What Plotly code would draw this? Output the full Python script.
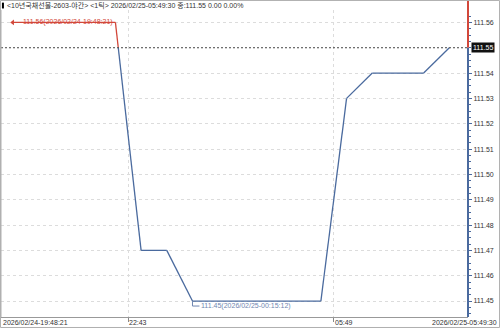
import plotly.graph_objects as go

# ---- data ----
title_text = "<10년국채선물-2603-야간> <1틱> 2026/02/25-05:49:30 종:111.55 0.00 0.00%"
tick_idx = [5, 49, 60, 71, 82, 137, 148, 159, 181, 192]
prices = [111.56, 111.56, 111.47, 111.47, 111.45, 111.45, 111.53, 111.54, 111.54, 111.55]
base_price = 111.55
x_tick_pos = [54.5, 142.5]
x_tick_labels = ["22:43", "05:49"]
x_start_label = "2026/02/24-19:48:21"
x_end_label = "2026/02/25-05:49:30"
y_ticks = [111.45, 111.46, 111.47, 111.48, 111.49, 111.50, 111.51, 111.52, 111.53, 111.54, 111.56]
max_label = "111.56(2026/02/24-19:48:21)"
min_label = "111.45(2026/02/25-00:15:12)"

RED = "#d2473a"
BLUE = "#4a6a9e"
FONT = "Liberation Sans, Noto Sans CJK KR, sans-serif"
FS = 7

xmin, xmax = 0, 200
ymin, ymax = 111.4437, 111.5649

# split series into above/below base segments
red_x, red_y, blue_x, blue_y = [], [], [], []
for i in range(len(prices) - 1):
    x0, y0, x1, y1 = tick_idx[i], prices[i], tick_idx[i + 1], prices[i + 1]
    if y0 >= base_price and y1 >= base_price:
        red_x += [x0, x1, None]; red_y += [y0, y1, None]
    elif y0 <= base_price and y1 <= base_price:
        blue_x += [x0, x1, None]; blue_y += [y0, y1, None]
    else:
        xc = x0 + (base_price - y0) / (y1 - y0) * (x1 - x0)
        if y0 > base_price:
            red_x += [x0, xc, None]; red_y += [y0, base_price, None]
            blue_x += [xc, x1, None]; blue_y += [base_price, y1, None]
        else:
            blue_x += [x0, xc, None]; blue_y += [y0, base_price, None]
            red_x += [xc, x1, None]; red_y += [base_price, y1, None]

fig = go.Figure()
fig.add_trace(go.Scatter(x=red_x, y=red_y, mode="lines", line=dict(color=RED, width=1.3),
                         hoverinfo="skip"))
fig.add_trace(go.Scatter(x=blue_x, y=blue_y, mode="lines", line=dict(color=BLUE, width=1.3),
                         hoverinfo="skip"))
# start arrow
fig.add_trace(go.Scatter(x=[tick_idx[0]], y=[prices[0]], mode="markers",
                         marker=dict(symbol="triangle-left", size=5, color=RED),
                         hoverinfo="skip"))

base_paper = (base_price - ymin) / (ymax - ymin)

shapes = [
    # base dotted line
    dict(type="line", xref="paper", yref="y", x0=0, x1=1, y0=base_price, y1=base_price,
         line=dict(color="#444444", width=1, dash="2px,2px")),
    # right axis: red above base, blue below
    dict(type="line", xref="paper", yref="paper", x0=1, x1=1, y0=base_paper, y1=1.04,
         line=dict(color=RED, width=2)),
    dict(type="line", xref="paper", yref="paper", x0=1, x1=1, y0=0, y1=base_paper,
         line=dict(color=BLUE, width=2)),
    # outer border
    dict(type="rect", xref="paper", yref="paper", x0=-0.0011, x1=1.0675, y0=-0.0342, y1=1.031,
         line=dict(color="#b0b0b0", width=1)),
    # title marker
    dict(type="rect", xref="paper", yref="paper", x0=0.002, x1=0.0063, y0=1.005, y1=1.024,
         line=dict(width=0), fillcolor="#000000"),
    # min leader
    dict(type="line", xref="x", yref="y", xsizemode="pixel", ysizemode="pixel",
         xanchor=tick_idx[4], yanchor=min(prices), x0=0, x1=0, y0=0, y1=-5,
         line=dict(color="#6f86b0", width=1)),
    dict(type="line", xref="x", yref="y", xsizemode="pixel", ysizemode="pixel",
         xanchor=tick_idx[4], yanchor=min(prices), x0=0, x1=7, y0=-5, y1=-5,
         line=dict(color="#6f86b0", width=1)),
]

annotations = [
    dict(text=title_text.replace("<", "&lt;").replace(">", "&gt;"), xref="paper", yref="paper",
         x=0.0085, y=1.016, xanchor="left", yanchor="middle", showarrow=False,
         font=dict(family=FONT, size=FS, color="#333333")),
    dict(text=max_label, x=tick_idx[1], y=max(prices), xref="x", yref="y",
         xanchor="right", yanchor="middle", showarrow=False,
         font=dict(family=FONT, size=FS, color=RED)),
    dict(text=min_label, x=tick_idx[4], y=min(prices), xref="x", yref="y",
         xanchor="left", yanchor="middle", xshift=7, yshift=-5, showarrow=False,
         font=dict(family=FONT, size=FS, color="#6f86b0")),
    dict(text=f"{base_price:.2f}", xref="paper", yref="y", x=1.006, y=base_price,
         xanchor="left", yanchor="middle", showarrow=False, bgcolor="#111111",
         borderpad=1, font=dict(family=FONT, size=FS, color="#ffffff")),
    dict(text=x_start_label, xref="paper", yref="paper", x=0.0, y=-0.017,
         xanchor="left", yanchor="middle", showarrow=False,
         font=dict(family=FONT, size=FS, color="#333333")),
    dict(text=x_end_label, xref="paper", yref="paper", x=1.066, y=-0.017,
         xanchor="right", yanchor="middle", showarrow=False,
         font=dict(family=FONT, size=FS, color="#333333")),
]
for pos, lab in zip(x_tick_pos, x_tick_labels):
    annotations.append(dict(text=lab, xref="x", yref="paper", x=pos, y=-0.017,
                            xanchor="left", yanchor="middle", showarrow=False, xshift=-1,
                            font=dict(family=FONT, size=FS, color="#333333")))

fig.update_layout(
    width=500, height=328,
    margin=dict(l=1, r=32, t=10, b=11),
    paper_bgcolor="#ffffff", plot_bgcolor="#ffffff",
    showlegend=False,
    shapes=shapes, annotations=annotations,
    xaxis=dict(range=[xmin, xmax], tickvals=x_tick_pos, showticklabels=False,
               ticks="outside", ticklen=4, tickcolor="#888888",
               showgrid=True, gridcolor="#dcdcdc", griddash="dot", gridwidth=1,
               showline=True, linecolor="#999999", linewidth=1, mirror=False,
               zeroline=False, fixedrange=True),
    yaxis=dict(range=[ymin, ymax], side="right", tickvals=y_ticks,
               ticktext=[f"{v:.2f}" for v in y_ticks],
               ticks="outside", ticklen=3, tickcolor="#4a6a9e",
               tickfont=dict(family=FONT, size=FS, color="#333333"),
               showgrid=True, gridcolor="#dcdcdc", griddash="dot", gridwidth=1,
               showline=False, zeroline=False, fixedrange=True,
               minor=dict(dtick=0.0025, ticks="outside", ticklen=2, tickcolor="#4a6a9e",
                          showgrid=False)),
)
# left border of plot
fig.add_shape(type="line", xref="paper", yref="paper", x0=0, x1=0, y0=0, y1=1,
              line=dict(color="#b0b0b0", width=1))

fig.write_html("out.html")
